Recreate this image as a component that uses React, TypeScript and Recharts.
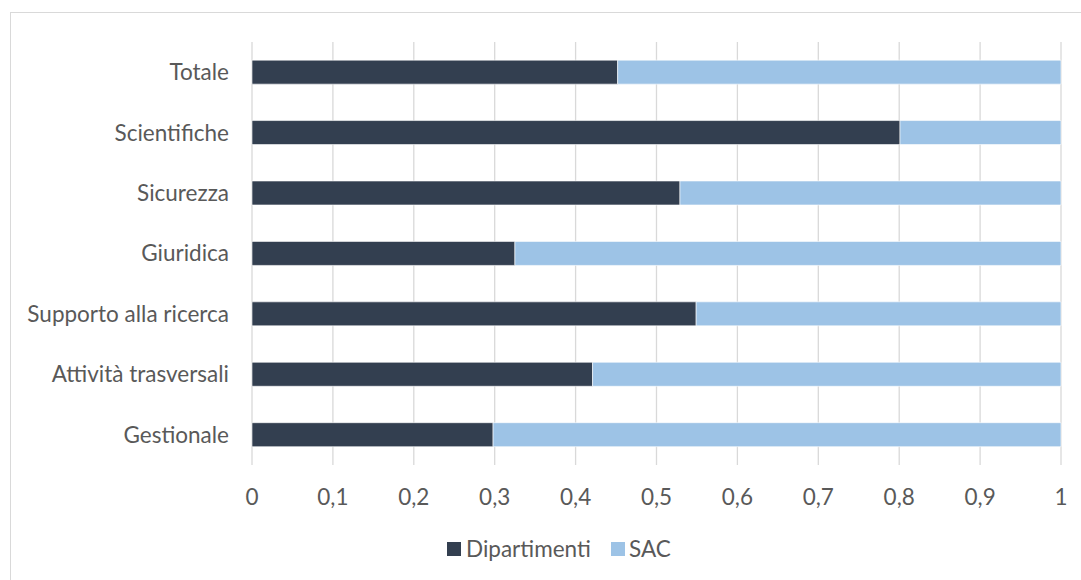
import { Bar, BarChart, XAxis, YAxis, CartesianGrid, Legend } from "recharts"

const categories = [
  "Totale",
  "Scientifiche",
  "Sicurezza",
  "Giuridica",
  "Supporto alla ricerca",
  "Attività trasversali",
  "Gestionale",
]
const dipartimenti = [0.452, 0.801, 0.529, 0.325, 0.549, 0.421, 0.298]
const sac = dipartimenti.map((v) => 1 - v)
const xTicks = [0, 0.1, 0.2, 0.3, 0.4, 0.5, 0.6, 0.7, 0.8, 0.9, 1]

const data = categories.map((name, i) => ({
  name,
  dipartimenti: dipartimenti[i],
  sac: sac[i],
}))

const FONT = "Lato, 'Open Sans', sans-serif"
const TEXT = "#595959"
const DARK = "#333f50"
const LIGHT = "#9dc3e6"

function LegendContent() {
  const label = { fontFamily: FONT, fontSize: 22.5, color: TEXT, position: "absolute" as const, top: 0, lineHeight: "28px" }
  const square = (bg: string) => ({ position: "absolute" as const, top: 7, width: 14, height: 14, background: bg })
  return (
    <div style={{ position: "relative", width: 1081, height: 30 }}>
      <div style={{ ...square(DARK), left: 447 }} />
      <span style={{ ...label, left: 466 }}>Dipartimenti</span>
      <div style={{ ...square(LIGHT), left: 611 }} />
      <span style={{ ...label, left: 629 }}>SAC</span>
    </div>
  )
}

export default function App() {
  return (
    <div style={{ position: "absolute", left: 0, top: 0, width: 1081, height: 580, overflow: "hidden", background: "#fff" }}>
      <div
        style={{
          position: "absolute",
          left: 10,
          top: 12,
          width: 1200,
          height: 700,
          border: "1px solid #d9d9d9",
        }}
      />
      <BarChart
        width={1081}
        height={580}
        data={data}
        layout="vertical"
        barCategoryGap="30%"
        margin={{ top: 42, right: 20, bottom: 15, left: 12 }}
      >
        <CartesianGrid horizontal={false} stroke="#d9d9d9" strokeWidth={1.3} />
        <XAxis
          type="number"
          domain={[0, 1]}
          ticks={xTicks}
          tickFormatter={(v) => String(v).replace(".", ",")}
          axisLine={false}
          tickLine={false}
          tickMargin={18}
          height={70}
          tick={{ fill: TEXT, fontSize: 22.5, fontFamily: FONT }}
        />
        <YAxis
          type="category"
          dataKey="name"
          width={240}
          axisLine={false}
          tickLine={false}
          tickMargin={17}
          tick={{ fill: TEXT, fontSize: 22.5, fontFamily: FONT }}
        />
        <Legend
          content={<LegendContent />}
          wrapperStyle={{ top: 535, left: 0, width: 1081, height: 30 }}
        />
        <Bar dataKey="dipartimenti" name="Dipartimenti" stackId="a" fill={DARK} stroke="#fff" strokeWidth={0.6} isAnimationActive={false} />
        <Bar dataKey="sac" name="SAC" stackId="a" fill={LIGHT} stroke="#fff" strokeWidth={0.6} isAnimationActive={false} />
      </BarChart>
    </div>
  )
}
